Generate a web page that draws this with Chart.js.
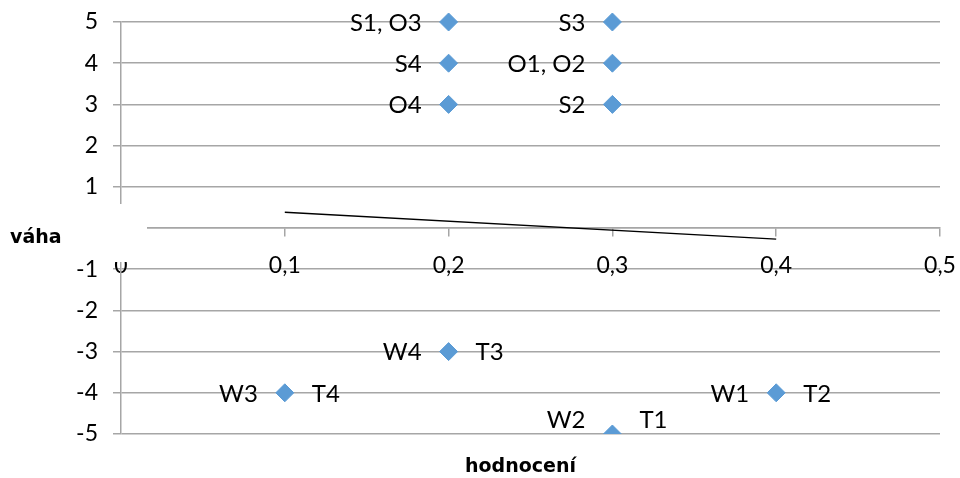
<!DOCTYPE html>
<html>
<head>
<meta charset="utf-8">
<script src="https://cdn.jsdelivr.net/npm/chart.js@4/dist/chart.umd.min.js"></script>
<style>
  html, body { margin: 0; padding: 0; background: #ffffff; }
  canvas { display: block; }
</style>
</head>
<body>
<canvas id="swot" width="960" height="478"></canvas>
<script>
// SWOT factors: rating (hodnocení) against weight (váha)
const hodnoceni   = [0.2, 0.3, 0.2, 0.3, 0.2, 0.3, 0.2, 0.1, 0.4, 0.3];
const vaha        = [5, 5, 4, 4, 3, 3, -3, -4, -4, -5];
const leftLabels  = ['S1, O3', 'S3', 'S4', 'O1, O2', 'O4', 'S2', 'W4', 'W3', 'W1', 'W2'];
const rightLabels = ['', '', '', '', '', '', 'T3', 'T4', 'T2', 'T1'];

// resulting strategy vector
const vectorX = [0.1, 0.4];
const vectorY = [0.38, -0.27];

// axis ticks
const xTicks = [0, 0.1, 0.2, 0.3, 0.4, 0.5];
const yTicks = [-5, -4, -3, -2, -1, 0, 1, 2, 3, 4, 5];

const GRID = '#a6a6a6';
const TEXT = '#000000';
const BASE_FONT = 'Lato';

const points = hodnoceni.map((x, i) => ({ x: x, y: vaha[i] }));
const vector = vectorX.map((x, i) => ({ x: x, y: vectorY[i] }));

// point labels on both sides of each marker, kept inside the plot area
const pointLabels = {
  id: 'pointLabels',
  afterDatasetsDraw(chart) {
    const ctx = chart.ctx;
    const area = chart.chartArea;
    const meta = chart.getDatasetMeta(1);
    ctx.save();
    ctx.font = '24px ' + BASE_FONT;
    ctx.fillStyle = TEXT;
    ctx.textBaseline = 'middle';
    meta.data.forEach((pt, i) => {
      let y = pt.y + 1;
      const half = 14;
      if (y + half > area.bottom) y = area.bottom - half;
      if (leftLabels[i]) {
        ctx.textAlign = 'right';
        ctx.fillText(leftLabels[i], pt.x - 27, y);
      }
      if (rightLabels[i]) {
        ctx.textAlign = 'left';
        ctx.fillText(rightLabels[i], pt.x + 27, y);
      }
    });
    ctx.restore();
  }
};

// axis titles and the blank box around the origin
const axisTitles = {
  id: 'axisTitles',
  afterDraw(chart) {
    const ctx = chart.ctx;
    const area = chart.chartArea;
    const y0 = chart.scales.y.getPixelForValue(0);
    ctx.save();
    ctx.fillStyle = '#ffffff';
    ctx.fillRect(area.left - 22, y0 - 24, 48, 58);

    ctx.fillStyle = TEXT;
    ctx.font = 'bold 19px "DejaVu Sans"';
    ctx.textBaseline = 'alphabetic';
    ctx.textAlign = 'left';
    ctx.fillText('váha', 10, y0 + 15);
    ctx.textAlign = 'center';
    ctx.fillText('hodnocení', (area.left + area.right) / 2 - 10, chart.height - 6);
    ctx.restore();
  }
};

Chart.defaults.color = TEXT;
Chart.defaults.font.family = BASE_FONT;

new Chart(document.getElementById('swot'), {
  type: 'scatter',
  data: {
    datasets: [
      {
        label: 'vektor',
        data: vector,
        showLine: true,
        borderColor: '#000000',
        borderWidth: 1.5,
        pointRadius: 0,
        pointHoverRadius: 0,
        fill: false
      },
      {
        label: 'SWOT',
        data: points,
        pointStyle: 'rectRot',
        pointRadius: 9,
        pointHoverRadius: 9,
        backgroundColor: '#5b9bd5',
        borderColor: '#5b9bd5',
        borderWidth: 1,
        // markers on the lowest gridline are cut by the plot edge
        clip: { left: false, top: false, right: false, bottom: 0 }
      }
    ]
  },
  options: {
    responsive: false,
    devicePixelRatio: 1,
    animation: false,
    events: [],
    layout: { padding: { top: 22, right: 20, bottom: 44, left: 0 } },
    plugins: {
      legend: { display: false },
      tooltip: { enabled: false }
    },
    scales: {
      x: {
        type: 'linear',
        position: { y: 0 },
        min: 0,
        max: 0.5,
        afterBuildTicks: (s) => { s.ticks = xTicks.map(v => ({ value: v })); },
        afterFit: (s) => { s.paddingLeft = 0; s.paddingRight = 0; },
        ticks: {
          autoSkip: false,
          maxRotation: 0,
          padding: 16,
          font: { size: 23, family: BASE_FONT },
          color: TEXT,
          callback: (v) => (Number(v) === 0 ? '0' : Number(v).toFixed(1).replace('.', ','))
        },
        grid: {
          drawOnChartArea: false,
          drawTicks: true,
          tickLength: 8,
          color: GRID,
          lineWidth: 1.5
        },
        border: { display: true, color: GRID, width: 1.5 }
      },
      y: {
        type: 'linear',
        position: 'left',
        min: -5,
        max: 5,
        afterBuildTicks: (s) => { s.ticks = yTicks.map(v => ({ value: v })); },
        afterFit: (s) => { s.width = 121; s.paddingTop = 0; s.paddingBottom = 0; },
        ticks: {
          padding: 15,
          font: { size: 23, family: BASE_FONT },
          color: TEXT,
          callback: (v) => (Number(v) === 0 ? '' : String(v))
        },
        grid: {
          color: GRID,
          lineWidth: 1.5,
          drawTicks: true,
          tickLength: 8
        },
        border: { display: true, color: GRID, width: 1.5 }
      }
    }
  },
  plugins: [pointLabels, axisTitles]
});
</script>
</body>
</html>
